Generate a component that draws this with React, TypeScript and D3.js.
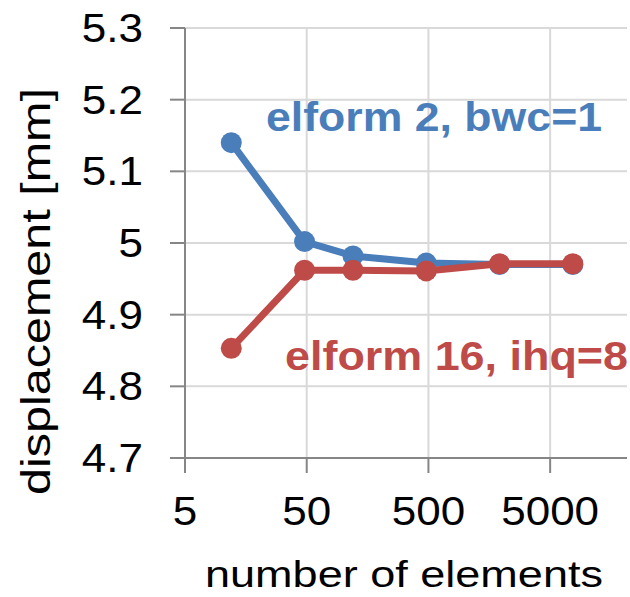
import React from "react";
import * as d3 from "d3";

// number of elements (log axis) and displacement in mm
const elements = [12, 48, 120, 480, 1920, 7680];
const elform2 = [5.14, 5.002, 4.982, 4.972, 4.97, 4.97];
const elform16 = [4.853, 4.962, 4.962, 4.961, 4.971, 4.971];
const xTicks = [5, 50, 500, 5000];
const yTicks = [4.7, 4.8, 4.9, 5.0, 5.1, 5.2, 5.3];

const series = [
  { name: "elform 2, bwc=1", values: elform2, color: "#4A7EBB" },
  { name: "elform 16, ihq=8", values: elform16, color: "#BE4B48" },
];

const W = 630;
const H = 597;
const margin = { top: 28, right: 3, bottom: 139, left: 185 };

export default function App() {
  const x = d3
    .scaleLog()
    .domain([5, 21400])
    .range([margin.left, W - margin.right]);
  const y = d3
    .scaleLinear()
    .domain([4.7, 5.3])
    .range([H - margin.bottom, margin.top]);

  const line = d3
    .line<number>()
    .x((d, i) => x(elements[i]))
    .y((d) => y(d));

  const font = "Liberation Sans, Arial, sans-serif";
  const yFmt = (v: number) => (Math.abs(v - 5) < 1e-9 ? "5" : d3.format(".1f")(v));
  // the source image is a little stretched sideways
  const sx = 1.1;

  return (
    <svg
      width={W}
      height={H}
      style={{ position: "absolute", left: 0, top: 0, background: "#fff" }}
      fontFamily={font}
    >
      <rect width={W} height={H} fill="#fff" />
      {/* grid */}
      {yTicks.map((t) => (
        <line
          key={"gy" + t}
          x1={margin.left}
          x2={W - margin.right}
          y1={y(t)}
          y2={y(t)}
          stroke="#d9d9d9"
          strokeWidth={2}
        />
      ))}
      {xTicks.map((t) => (
        <line
          key={"gx" + t}
          x1={x(t)}
          x2={x(t)}
          y1={margin.top}
          y2={H - margin.bottom}
          stroke="#d9d9d9"
          strokeWidth={2}
        />
      ))}
      {/* axes */}
      <line x1={margin.left} x2={margin.left} y1={margin.top} y2={H - margin.bottom} stroke="#868686" strokeWidth={2} />
      <line x1={margin.left - 15} x2={W - margin.right} y1={H - margin.bottom} y2={H - margin.bottom} stroke="#868686" strokeWidth={2} />
      {yTicks.map((t) => (
        <g key={"ty" + t}>
          <line x1={margin.left - 15} x2={margin.left} y1={y(t)} y2={y(t)} stroke="#868686" strokeWidth={2} />
          <text
            transform={`translate(143, ${y(t) + 14}) scale(${sx}, 1)`}
            fontSize={40}
            textAnchor="end"
            fill="#000"
          >
            {yFmt(t)}
          </text>
        </g>
      ))}
      {xTicks.map((t) => (
        <g key={"tx" + t}>
          <line x1={x(t)} x2={x(t)} y1={H - margin.bottom} y2={H - margin.bottom + 15} stroke="#868686" strokeWidth={2} />
          <text
            transform={`translate(${x(t)}, 525) scale(${sx}, 1)`}
            fontSize={40}
            textAnchor="middle"
            fill="#000"
          >
            {t}
          </text>
        </g>
      ))}
      {/* axis titles */}
      <text x={205} y={587} fontSize={37} textLength={398} lengthAdjust="spacingAndGlyphs" fill="#000">
        number of elements
      </text>
      <text
        transform={`translate(50, ${(88 + 495) / 2}) rotate(-90)`}
        textAnchor="middle"
        fontSize={40}
        textLength={407}
        lengthAdjust="spacingAndGlyphs"
        fill="#000"
      >
        displacement [mm]
      </text>
      {/* series */}
      {series.map((s) => (
        <g key={s.name}>
          <path d={line(s.values) || ""} fill="none" stroke={s.color} strokeWidth={7} strokeLinejoin="round" />
          {s.values.map((v, i) => (
            <circle key={i} cx={x(elements[i])} cy={y(v)} r={10.5} fill={s.color} />
          ))}
        </g>
      ))}
      {/* labels */}
      <text x={266} y={131} fontSize={40} fontWeight="bold" fill={series[0].color} textLength={336} lengthAdjust="spacingAndGlyphs">
        {series[0].name}
      </text>
      <text x={285} y={370} fontSize={40} fontWeight="bold" fill={series[1].color} textLength={343} lengthAdjust="spacingAndGlyphs">
        {series[1].name}
      </text>
    </svg>
  );
}
